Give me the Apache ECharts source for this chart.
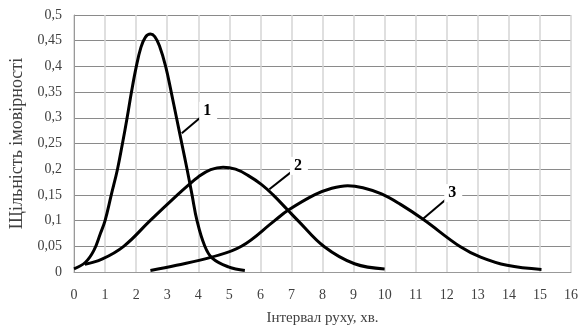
<!DOCTYPE html>
<html>
<head>
<meta charset="utf-8">
<script src="https://cdn.jsdelivr.net/npm/echarts@6/dist/echarts.min.js"></script>
<style>
  html, body { margin: 0; padding: 0; background: #fff; }
  #chart { width: 586px; height: 332px; }
</style>
</head>
<body>
<div id="chart"></div>
<script>
// curve points [interval, density]
var curve1 = [[0, 0.006], [0.37, 0.019], [0.64, 0.042], [0.85, 0.075], [1.0, 0.1], [1.2, 0.15], [1.4, 0.2],
  [1.56, 0.25], [1.71, 0.3], [1.85, 0.35], [2.0, 0.398], [2.15, 0.436], [2.3, 0.457], [2.46, 0.463], [2.6, 0.458],
  [2.75, 0.44], [2.95, 0.4], [3.13, 0.35], [3.3, 0.3], [3.47, 0.25], [3.64, 0.2], [3.8, 0.15], [3.96, 0.1],
  [4.2, 0.052], [4.45, 0.027], [4.97, 0.01], [5.5, 0.003]]
var curve2 = [[0.35, 0.015], [0.9, 0.025], [1.6, 0.05], [2.45, 0.1], [3.33, 0.15], [3.7, 0.17], [4.0, 0.185],
  [4.4, 0.199], [4.8, 0.204], [5.2, 0.2], [5.6, 0.188], [6.04, 0.17], [6.41, 0.15], [6.89, 0.12], [7.21, 0.1],
  [8.06, 0.049], [9.03, 0.016], [10.0, 0.006]]
var curve3 = [[2.46, 0.003], [3.3, 0.013], [4.43, 0.029], [5.39, 0.05], [6.46, 0.1], [6.89, 0.12], [7.74, 0.15],
  [8.3, 0.163], [8.81, 0.168], [9.3, 0.164], [9.9, 0.152], [10.5, 0.132], [11.25, 0.102], [12.44, 0.049],
  [13.09, 0.029], [13.94, 0.013], [15.05, 0.005]]

// leader lines from each curve to its number
var leader1 = [[3.47, 0.27], [4.27, 0.311]]
var leader2 = [[6.29, 0.161], [7.19, 0.204]]
var leader3 = [[11.23, 0.103], [12.16, 0.151]]
var curveNames = ['1', '2', '3']

var chart = echarts.init(document.getElementById('chart'))

function comma(v) {
  return String(Math.round(v * 100) / 100).replace('.', ',')
}

function leader(points, name) {
  return {
    silent: true,
    symbol: 'none',
    lineStyle: { color: '#000', width: 2, type: 'solid' },
    label: {
      show: true,
      position: 'end',
      formatter: name,
      distance: 2,
      color: '#000',
      fontFamily: 'Liberation Serif',
      fontWeight: 'bold',
      fontSize: 16,
      backgroundColor: '#fff',
      padding: [1, 6, 1, 4]
    },
    data: [[{ coord: points[0] }, { coord: points[1] }]]
  }
}

function curve(data, pts, name) {
  return {
    type: 'line',
    data: data,
    smooth: 0.4,
    showSymbol: false,
    lineStyle: { color: '#000', width: 3 },
    markLine: leader(pts, name)
  }
}

chart.setOption({
  animation: false,
  textStyle: { fontFamily: 'Liberation Serif' },
  grid: { left: 71, right: 15, top: 15, bottom: 60 },
  xAxis: {
    type: 'value',
    min: 0,
    max: 16,
    interval: 1,
    name: 'Інтервал руху, хв.',
    nameLocation: 'middle',
    nameGap: 39,
    nameTextStyle: { fontFamily: 'Liberation Serif', fontSize: 15, color: '#404040' },
    axisLine: { show: true, lineStyle: { color: '#999', width: 1 } },
    axisTick: { show: false },
    axisLabel: { margin: 16, fontFamily: 'Liberation Serif', fontSize: 14, color: '#404040' },
    splitLine: { show: true, lineStyle: { color: '#d4d4d4', width: 1.5 } }
  },
  yAxis: {
    type: 'value',
    min: 0,
    max: 0.5,
    interval: 0.05,
    name: 'Щільність імовірності',
    nameLocation: 'middle',
    nameGap: 48,
    nameTextStyle: { fontFamily: 'Liberation Serif', fontSize: 18, color: '#404040' },
    axisLine: { show: true, lineStyle: { color: '#999', width: 1 } },
    axisTick: { show: false },
    axisLabel: { margin: 12, fontFamily: 'Liberation Serif', fontSize: 14, color: '#404040', formatter: comma },
    splitLine: { show: true, lineStyle: { color: '#8a8a8a', width: 1 } }
  },
  series: [
    curve(curve1, leader1, curveNames[0]),
    curve(curve2, leader2, curveNames[1]),
    curve(curve3, leader3, curveNames[2])
  ]
})
</script>
</body>
</html>
